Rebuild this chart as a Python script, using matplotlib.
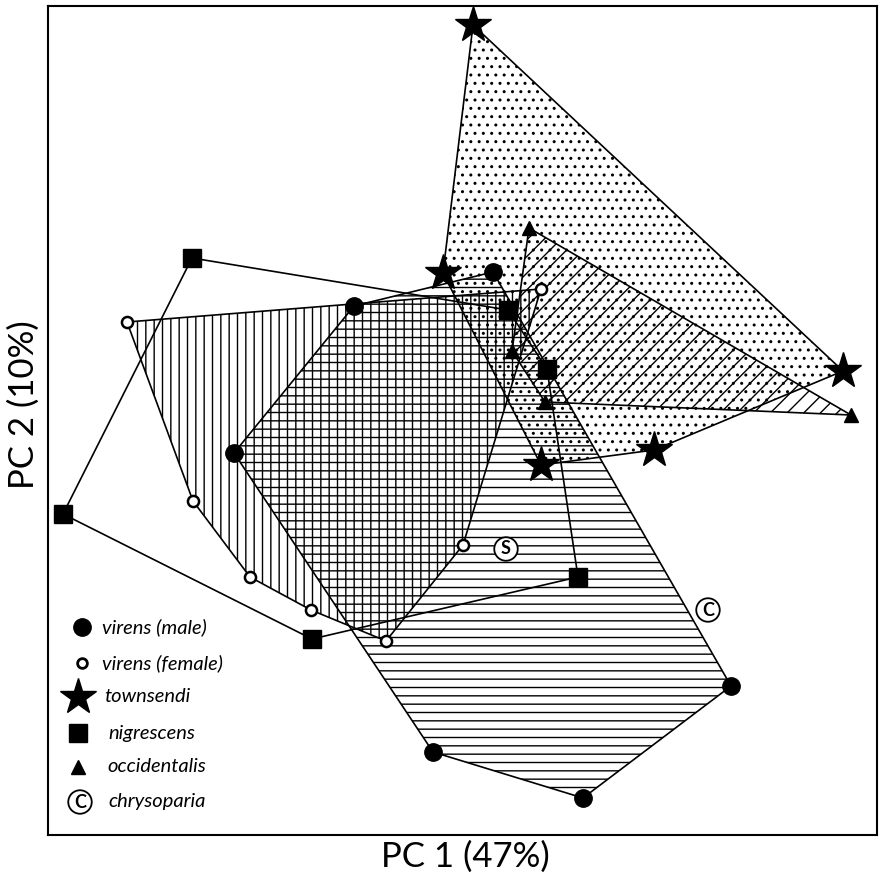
import matplotlib
matplotlib.use("Agg")
import matplotlib.pyplot as plt
from matplotlib.patches import Polygon

plt.rcParams['font.family'] = ['Lato', 'DejaVu Sans']
plt.rcParams['hatch.linewidth'] = 1.0

# PC scores (arbitrary units; PC1 horizontal, PC2 vertical)
male_pc1 = [3.06, 4.45, 6.83, 5.35, 3.85, 1.86]
male_pc2 = [5.29, 5.63, 1.49, 0.37, 0.83, 3.82]

female_pc1 = [0.79, 4.93, 4.15, 3.38, 2.63, 2.02, 1.45]
female_pc2 = [5.13, 5.46, 2.90, 1.94, 2.25, 2.58, 3.34]

townsendi_pc1 = [4.25, 7.95, 6.06, 4.93, 3.95]
townsendi_pc2 = [8.10, 4.64, 3.85, 3.70, 5.62]

nigrescens_pc1 = [1.44, 4.60, 4.99, 5.30, 2.64, 0.15]
nigrescens_pc2 = [5.77, 5.25, 4.66, 2.58, 1.96, 3.21]

occidentalis_pc1 = [4.81, 8.03, 4.97, 4.64]
occidentalis_pc2 = [6.07, 4.20, 4.33, 4.84]

special_labels = ["S", "C"]
special_pc1 = [4.58, 6.60]
special_pc2 = [2.86, 2.25]

legend_labels = ["virens (male)", "virens (female)", "townsendi",
                 "nigrescens", "occidentalis", "chrysoparia"]

W, H = 884, 882
fig = plt.figure(figsize=(W / 100, H / 100), dpi=100)
L, R, T, B = 48, 877, 6, 835
ax = fig.add_axes([L / W, 1 - B / H, (R - L) / W, (B - T) / H])
ax.set_xlim(0, 8.29)
ax.set_ylim(0, 8.29)
ax.set_xticks([])
ax.set_yticks([])
for s in ax.spines.values():
    s.set_linewidth(1.5)

def hull(x, y, hatch, z):
    pts = list(zip(x, y))
    if hatch:
        ax.add_patch(Polygon(pts, closed=True, facecolor='none', edgecolor='black',
                             hatch=hatch, linewidth=0, zorder=z))
    ax.add_patch(Polygon(pts, closed=True, facecolor='none', edgecolor='black',
                         linewidth=1.2, zorder=5))

hull(townsendi_pc1, townsendi_pc2, '..', 1)
hull(occidentalis_pc1, occidentalis_pc2, '//', 2)
hull(male_pc1, male_pc2, '--', 2)
hull(female_pc1, female_pc2, '||', 2)
hull(nigrescens_pc1, nigrescens_pc2, None, 2)

ax.plot(male_pc1, male_pc2, 'o', ms=12.5, color='black', ls='none', zorder=10)
ax.plot(female_pc1, female_pc2, 'o', ms=8, mfc='white', mec='black', mew=1.8,
        ls='none', zorder=10)
ax.plot(townsendi_pc1, townsendi_pc2, '*', ms=27, color='black', ls='none', zorder=10)
ax.plot(nigrescens_pc1, nigrescens_pc2, 's', ms=12.5, color='black', ls='none', zorder=10)
ax.plot(occidentalis_pc1, occidentalis_pc2, '^', ms=10, color='black', ls='none', zorder=10)

for lab, x, y in zip(special_labels, special_pc1, special_pc2):
    ax.text(x, y, lab, ha='center', va='center', fontsize=13, fontweight='bold',
            zorder=11,
            bbox=dict(boxstyle='circle,pad=0.18', fc='white', ec='black', lw=1.3))

# legend (in axes fraction)
def ax_xy(px, py):
    return (px - L) / (R - L), (B - py) / (B - T)

leg_y = [627, 663, 697, 733, 767, 802]
mk = [dict(marker='o', ms=12.5, color='black'),
      dict(marker='o', ms=7, mfc='white', mec='black', mew=2.0),
      dict(marker='*', ms=27, color='black'),
      dict(marker='s', ms=12.5, color='black'),
      dict(marker='^', ms=10, color='black')]
mk_x = [82, 82, 78, 78, 78]
txt_x = [102, 102, 104, 108, 107, 108]
for i, lab in enumerate(legend_labels):
    if i < 5:
        mx, my = ax_xy(mk_x[i], leg_y[i])
        ax.plot([mx], [my], transform=ax.transAxes, ls='none', zorder=12, **mk[i])
    else:
        mx, my = ax_xy(80, leg_y[i])
        ax.text(mx, my, "C", transform=ax.transAxes, ha='center', va='center',
                fontsize=13, fontweight='bold', zorder=12,
                bbox=dict(boxstyle='circle,pad=0.18', fc='white', ec='black', lw=1.3))
    tx, ty = ax_xy(txt_x[i], leg_y[i])
    ax.text(tx, ty, lab, transform=ax.transAxes, ha='left', va='center',
            fontsize=14.5, style='italic', zorder=12)

fig.text(465 / W, 1 - 857 / H, "PC 1 (47%)", ha='center', va='center', fontsize=25)
fig.text(24 / W, 1 - 405 / H, "PC 2 (10%)", ha='center', va='center', fontsize=25,
         rotation=90)

fig.savefig("out.png", dpi=100)
